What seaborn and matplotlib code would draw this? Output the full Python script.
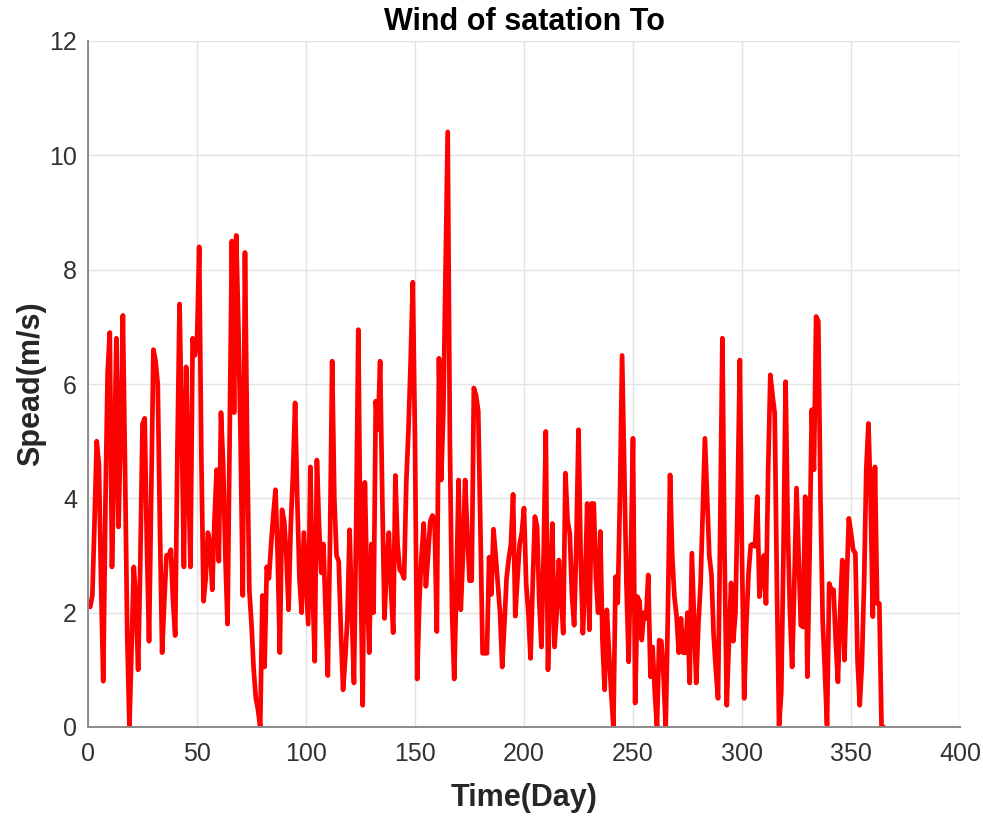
import numpy as np
import pandas as pd
import matplotlib
matplotlib.use("Agg")
import matplotlib.pyplot as plt
import seaborn as sns

# Daily wind speed (m/s), days 1..365
speed_q1 = [2.1, 2.3, 3.6, 5.0, 4.6, 2.5, 0.8, 3.9, 6.2, 6.9,
            2.8, 4.6, 6.8, 3.5, 5.2, 7.2, 4.5, 1.6, 0.0, 1.4,
            2.8, 2.2, 1.0, 2.9, 5.3, 5.4, 3.2, 1.5, 4.0, 6.6,
            6.4, 6.0, 3.5, 1.3, 2.2, 3.0, 3.0, 3.1, 2.2, 1.6,
            4.8, 7.4, 5.2, 2.8, 6.3, 4.5, 2.8, 6.8, 6.5, 6.7,
            8.4, 4.7, 2.2, 2.6, 3.4, 3.2, 2.4, 3.6, 4.5, 2.9,
            5.5, 4.6, 3.0, 1.8, 5.2, 8.5, 5.5, 8.6, 7.0, 5.0,
            2.3, 8.3, 5.0, 2.4, 1.8, 1.0, 0.5, 0.3, 0.0, 2.3,
            1.05, 2.8, 2.6, 3.2, 3.7, 4.15, 3.0, 1.3, 3.8, 3.6,
            3.0]
speed_q2 = [2.05, 3.5, 4.4, 5.67, 4.0, 2.6, 2.0, 3.4, 2.6,
            1.8, 4.55, 2.5, 1.15, 4.67, 3.5, 2.7, 3.2, 2.0, 0.9,
            3.2, 6.4, 4.0, 3.0, 2.9, 1.7, 0.65, 1.2, 1.9, 3.45,
            2.0, 0.77, 3.5, 6.95, 3.0, 0.38, 4.28, 2.5, 1.3, 3.2,
            2.0, 5.7, 5.2, 6.4, 4.0, 1.9, 2.8, 3.4, 2.4, 1.65,
            4.4, 3.2, 2.75, 2.7, 2.6, 4.28, 5.2, 6.4, 7.78, 5.0,
            0.84, 2.2, 3.0, 3.56, 2.46, 3.0, 3.6, 3.7, 3.6, 1.67,
            6.45, 4.32, 5.5, 8.0, 10.41, 5.0, 2.0, 0.84, 2.5, 4.32,
            2.05, 3.0, 4.32, 3.4, 2.56, 2.56, 5.93, 5.8, 5.53, 3.5,
            1.29, 1.29]
speed_q3 = [1.29, 2.97, 2.32, 3.46, 3.0, 2.5, 2.0, 1.05,
            1.8, 2.6, 2.94, 3.2, 4.07, 1.94, 2.6, 3.2, 3.4, 3.83,
            2.5, 1.99, 1.2, 2.5, 3.68, 3.5, 2.2, 1.4, 3.0, 5.17,
            1.0, 2.4, 3.56, 1.4, 2.0, 2.92, 2.3, 1.64, 4.44, 3.6,
            3.39, 2.3, 1.78, 3.2, 5.2, 3.0, 1.64, 2.5, 3.91, 1.7,
            3.91, 3.91, 2.6, 2.0, 3.42, 1.5, 0.65, 2.05, 1.3, 0.6,
            0.0, 2.63, 2.17, 4.0, 6.5, 4.5, 2.5, 1.14, 3.0, 5.05,
            0.42, 2.28, 2.2, 1.52, 2.0, 1.9, 2.66, 0.88, 1.4, 0.6,
            0.0, 1.52, 1.5, 0.9, 0.0, 2.0, 4.41, 3.0, 2.28, 1.93,
            1.3, 1.9]
speed_q4 = [1.3, 1.3, 2.0, 0.77, 3.04, 1.93, 0.77, 1.8,
            2.5, 3.8, 5.05, 4.0, 3.0, 2.66, 1.6, 1.0, 0.5, 3.5,
            6.8, 3.0, 0.38, 1.5, 2.52, 1.5, 2.0, 4.0, 6.42, 3.0,
            0.5, 1.8, 2.69, 3.18, 3.2, 3.16, 4.03, 2.28, 2.6, 3.0,
            2.16, 4.5, 6.16, 5.8, 5.49, 2.5, 0.03, 0.6, 3.0, 6.04,
            3.5, 2.0, 1.05, 2.5, 4.18, 3.0, 1.78, 1.75, 4.03, 0.88,
            3.0, 5.55, 4.5, 7.18, 7.1, 4.0, 1.87, 1.0, 0.03, 2.51,
            2.4, 2.4, 1.5, 0.79, 2.0, 2.92, 1.17, 2.5, 3.65, 3.4,
            3.1, 3.04, 1.17, 0.38, 1.1, 2.5, 4.5, 5.31, 4.0, 1.93,
            4.55, 2.16, 2.16, 0.0, 0.0]

speed = speed_q1 + speed_q2 + speed_q3 + speed_q4
days = list(range(1, len(speed) + 1))

x_ticks = [0, 50, 100, 150, 200, 250, 300, 350, 400]
y_ticks = [0, 2, 4, 6, 8, 10, 12]

title_text = "Wind of satation To"
x_label = "Time(Day)"
y_label = "Spead(m/s)"

df = pd.DataFrame({"Day": days, "Speed": speed})

sns.set_style("white")
plt.rcParams["font.family"] = ["Liberation Sans", "DejaVu Sans"]

fig = plt.figure(figsize=(9.83, 8.16), dpi=100)
ax = fig.add_axes([88 / 983, (816 - 727) / 816, (960 - 88) / 983, (727 - 41) / 816])

sns.lineplot(data=df, x="Day", y="Speed", ax=ax, color="#ff0000",
             linewidth=3.4, estimator=None)

ax.set_xlim(0, 400)
ax.set_ylim(0, 12)
ax.set_xticks(x_ticks)
ax.set_yticks(y_ticks)
ax.grid(True, color="#e3e3e3", linewidth=1.0)
ax.set_axisbelow(True)

for s in ["top", "right"]:
    ax.spines[s].set_visible(False)
for s in ["left", "bottom"]:
    ax.spines[s].set_color("#8a8a8a")
    ax.spines[s].set_linewidth(1.4)

ax.tick_params(axis="both", direction="in", length=6, width=1.2,
               color="#555555", labelsize=18, labelcolor="#333333")
ax.tick_params(axis="x", pad=11)
ax.tick_params(axis="y", pad=8)

ax.set_title(title_text, fontsize=22, fontweight="bold", color="black", pad=8)
ax.set_xlabel(x_label, fontsize=22, fontweight="bold", color="#262626", labelpad=12)
ax.set_ylabel(y_label, fontsize=22, fontweight="bold", color="#262626", labelpad=2)

fig.savefig("out.png", dpi=100, facecolor="white")
